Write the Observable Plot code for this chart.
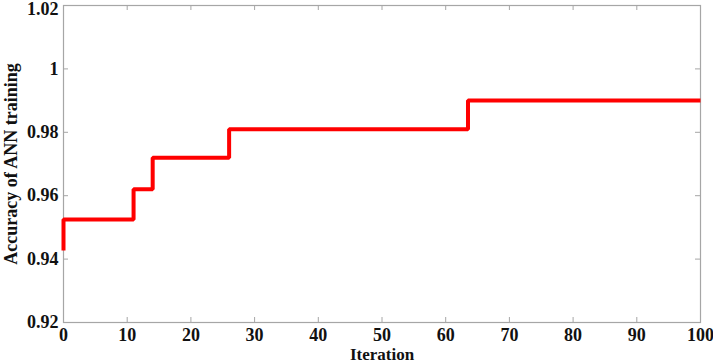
<!DOCTYPE html>
<html>
<head>
<meta charset="utf-8">
<script src="https://cdn.jsdelivr.net/npm/d3@7"></script>
<script src="https://cdn.jsdelivr.net/npm/@observablehq/plot@0.6"></script>
<style>
  html, body { margin: 0; padding: 0; background: #fff; }
  svg { display: block; }
</style>
</head>
<body>
<div id="chart"></div>
<script>
const iterations = [0, 0, 11, 14, 26, 63.5, 100];
const accuracy = [0.9427, 0.9525, 0.962, 0.972, 0.981, 0.990, 0.990];
const xTicks = [0, 10, 20, 30, 40, 50, 60, 70, 80, 90, 100];
const yTicks = [0.92, 0.94, 0.96, 0.98, 1, 1.02];
const yTickLabels = ["0.92", "0.94", "0.96", "0.98", "1", "1.02"];
const xLabel = "Iteration";
const yLabel = "Accuracy of ANN training";

const data = iterations.map((x, i) => ({x, y: accuracy[i]}));

const W = 713, H = 364;
const mL = 63, mR = 13, mT = 5, mB = 42;
const fH = H - mT - mB, fW = W - mL - mR;
const axisColor = "#a6a6a6";
const tk = 5;
const fmt = d => yTickLabels[yTicks.indexOf(d)] ?? d;

const chart = Plot.plot({
  width: W, height: H,
  marginLeft: mL, marginRight: mR, marginTop: mT, marginBottom: mB,
  style: {fontFamily: "'Liberation Serif', 'Times New Roman', serif", fontWeight: "bold", fontSize: "18px", color: "#111", background: "#fff"},
  x: {domain: [0, 100]},
  y: {domain: [0.92, 1.02]},
  marks: [
    Plot.frame({stroke: axisColor, strokeWidth: 1.2}),
    Plot.tickX(xTicks.slice(1, -1), {x: d => d, insetTop: fH - tk, stroke: axisColor}),
    Plot.tickX(xTicks.slice(1, -1), {x: d => d, insetBottom: fH - tk, stroke: axisColor}),
    Plot.tickY(yTicks.slice(1, -1), {y: d => d, insetRight: fW - tk, stroke: axisColor}),
    Plot.tickY(yTicks.slice(1, -1), {y: d => d, insetLeft: fW - tk, stroke: axisColor}),
    Plot.axisX({ticks: xTicks, tickSize: 0, tickPadding: 6, fontSize: 18, fontWeight: "bold", label: null}),
    Plot.text([xLabel], {text: d => d, frameAnchor: "bottom", lineAnchor: "middle", dy: 32.5,
      fontSize: 17, fontWeight: "bold", fill: "#111"}),
    Plot.axisY({ticks: yTicks.slice(0, -1), tickSize: 0, tickPadding: 5, fontSize: 18, fontWeight: "bold",
      tickFormat: fmt,
      label: yLabel, labelAnchor: "center", labelOffset: 59, labelArrow: "none"}),
    Plot.axisY({ticks: yTicks.slice(-1), tickSize: 0, tickPadding: 5, fontSize: 18, fontWeight: "bold",
      tickFormat: fmt, dy: 4, label: null}),
    Plot.line(data, {x: "x", y: "y", curve: "step-after", stroke: "#ff0000", strokeWidth: 4, strokeLinejoin: "miter", strokeLinecap: "butt"})
  ]
});
document.getElementById("chart").appendChild(chart);
</script>
</body>
</html>
